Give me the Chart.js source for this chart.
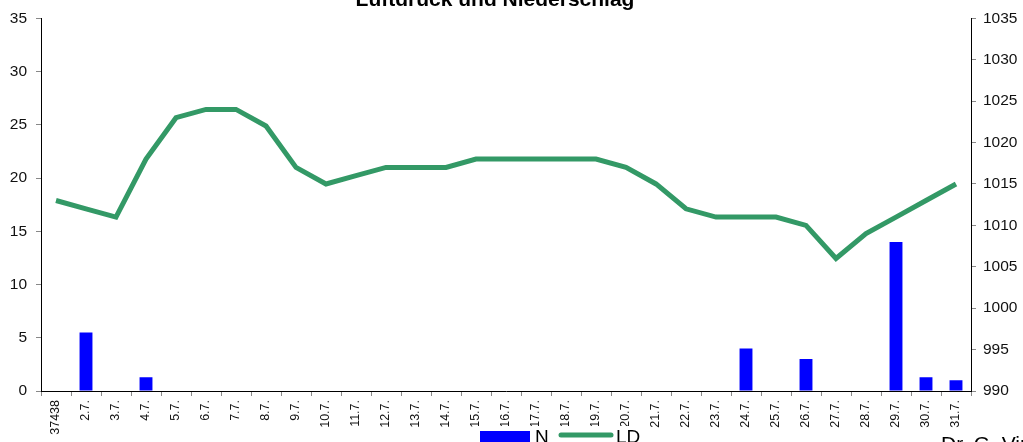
<!DOCTYPE html>
<html>
<head>
<meta charset="utf-8">
<script src="https://cdn.jsdelivr.net/npm/chart.js@4.4.1/dist/chart.umd.min.js"></script>
<style>
  html, body { margin: 0; padding: 0; background: #fff; }
  #wrap { width: 1023px; height: 442px; }
</style>
</head>
<body>
<div id="wrap"><canvas id="weatherChart"></canvas></div>
<script>
// ---- data ----
const days = ["37438", "2.7.", "3.7.", "4.7.", "5.7.", "6.7.", "7.7.", "8.7.", "9.7.", "10.7.",
    "11.7.", "12.7.", "13.7.", "14.7.", "15.7.", "16.7.", "17.7.", "18.7.", "19.7.", "20.7.",
    "21.7.", "22.7.", "23.7.", "24.7.", "25.7.", "26.7.", "27.7.", "28.7.", "29.7.", "30.7.", "31.7."];

// Niederschlag (mm)
const rain = [0, 5.5, 0, 1.3, 0, 0, 0, 0, 0, 0,
    0, 0, 0, 0, 0, 0, 0, 0, 0, 0,
    0, 0, 0, 4, 0, 3, 0, 0, 14, 1.3, 1];

// Luftdruck (hPa)
const pressure = [1013, 1012, 1011, 1018, 1023, 1024, 1024, 1022, 1017, 1015,
    1016, 1017, 1017, 1017, 1018, 1018, 1018, 1018, 1018, 1017,
    1015, 1012, 1011, 1011, 1011, 1010, 1006, 1009, 1011, 1013, 1015];

const rainTicks = [0, 35, 5];
const pressureTicks = [990, 1035, 5];

const FONT = "'Liberation Sans', Arial, sans-serif";

/* ================= EXTRA TEXT (title, legend, footer) ================= */
const extras = {
    id: "extras",
    afterDraw(chart) {
        const ctx = chart.ctx;
        ctx.save();
        ctx.fillStyle = "#000";
        ctx.textBaseline = "alphabetic";

        // title, cut at the top like the original
        ctx.font = "bold 21px " + FONT;
        ctx.textAlign = "center";
        ctx.fillText("Luftdruck und Niederschlag", 495, 6);

        // legend over the axis labels
        ctx.fillStyle = "#fff";
        ctx.fillRect(474, 426, 176, 16);
        ctx.fillStyle = "#0000ff";
        ctx.fillRect(480, 431, 50, 11);
        ctx.strokeStyle = "#339966";
        ctx.lineWidth = 5;
        ctx.lineCap = "round";
        ctx.beginPath();
        ctx.moveTo(561, 435);
        ctx.lineTo(611, 435);
        ctx.stroke();
        ctx.fillStyle = "#000";
        ctx.textAlign = "left";
        ctx.font = "19px " + FONT;
        ctx.fillText("N", 535, 443);
        ctx.fillText("LD", 616, 443);

        // author, cut at the bottom
        ctx.font = "21px " + FONT;
        ctx.fillText("Dr. G. Vinzenz", 941, 451);
        ctx.restore();
    }
};

new Chart(document.getElementById("weatherChart").getContext("2d"), {
    data: {
        labels: days,
        datasets: [
            {
                type: "line",
                label: "LD",
                data: pressure,
                yAxisID: "yP",
                borderColor: "#339966",
                borderWidth: 5,
                pointRadius: 0,
                tension: 0,
                fill: false,
                order: 0
            },
            {
                type: "bar",
                label: "N",
                data: rain,
                yAxisID: "yN",
                backgroundColor: "#0000ff",
                barPercentage: 0.43,
                categoryPercentage: 1,
                order: 1
            }
        ]
    },
    options: {
        responsive: true,
        maintainAspectRatio: false,
        animation: false,
        layout: { padding: { top: 15, left: 0, right: 0, bottom: 0 } },
        plugins: {
            legend: { display: false },
            title: { display: false },
            tooltip: { enabled: false }
        },
        scales: {
            x: {
                offset: true,
                afterFit: s => { s.height = 51; },
                grid: {
                    drawOnChartArea: false,
                    offset: true,
                    color: "#888",
                    tickLength: 5
                },
                border: { color: "#000", width: 1 },
                ticks: {
                    color: "#111",
                    font: { family: FONT, size: 12.5 },
                    minRotation: 90,
                    maxRotation: 90,
                    autoSkip: false,
                    padding: 4
                }
            },
            yN: {
                position: "left",
                min: rainTicks[0],
                max: rainTicks[1],
                afterFit: s => { s.width = 41; },
                grid: { drawOnChartArea: false, color: "#888", tickLength: 5 },
                border: { color: "#000", width: 1 },
                ticks: {
                    stepSize: rainTicks[2],
                    color: "#111",
                    padding: 9,
                    font: { family: FONT, size: 15.5 }
                }
            },
            yP: {
                position: "right",
                min: pressureTicks[0],
                max: pressureTicks[1],
                afterFit: s => { s.width = 52; },
                grid: { drawOnChartArea: false, color: "#888", tickLength: 5 },
                border: { color: "#000", width: 1 },
                ticks: {
                    stepSize: pressureTicks[2],
                    color: "#111",
                    padding: 7,
                    font: { family: FONT, size: 15.5 },
                    callback: v => String(v)
                }
            }
        }
    },
    plugins: [extras]
});
</script>
</body>
</html>
